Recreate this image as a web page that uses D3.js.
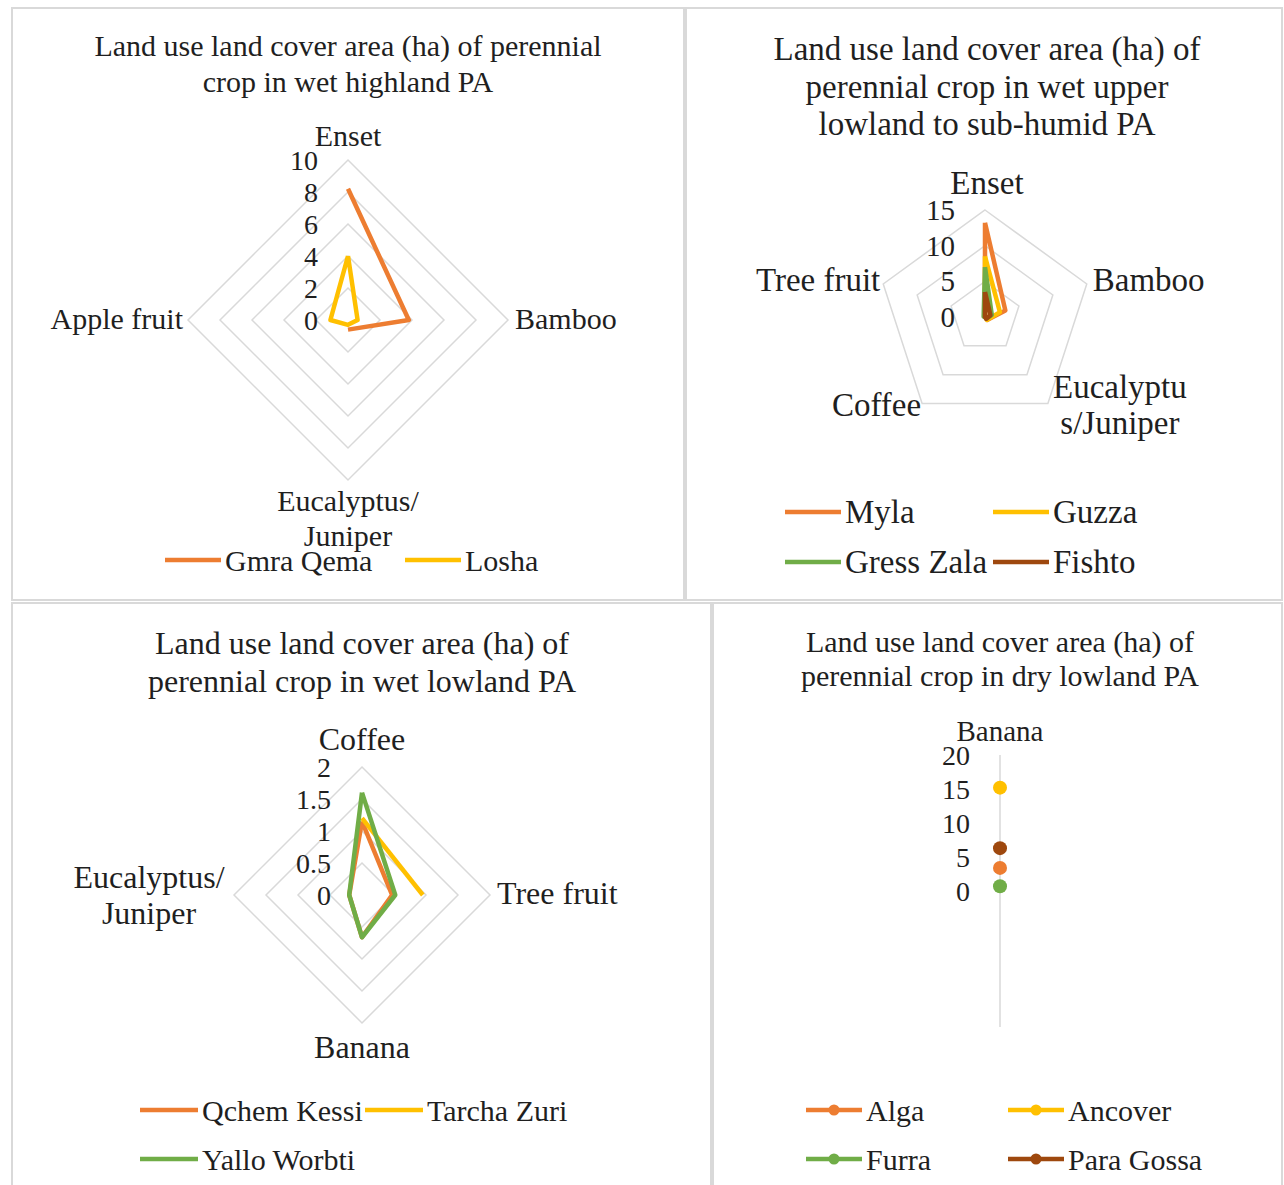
<!DOCTYPE html>
<html>
<head>
<meta charset="utf-8">
<script src="https://cdn.jsdelivr.net/npm/d3@7"></script>
<style>
  body { margin: 0; background: #fff; }
  text { font-family: "Liberation Serif", "Times New Roman", "DejaVu Serif", serif; fill: #1f1f1f; }
  .panel-border { fill: none; stroke: #d9d9d9; stroke-width: 2; }
  .grid { fill: none; stroke: #d9d9d9; stroke-width: 1.5; }
  .series { fill: none; stroke-width: 4.5; stroke-linejoin: round; }
</style>
</head>
<body>
<svg id="chart"></svg>
<script>
// ---- data ----
const colors = ['#ED7D31', '#FFC000', '#70AD47', '#9E480E'];

// wet highland PA
const highlandCategories = ['Enset', 'Bamboo', 'Eucalyptus/Juniper', 'Apple fruit'];
const highlandTicks = [0, 2, 4, 6, 8, 10];
const highlandNames = ['Gmra Qema', 'Losha'];
const gmraQema = [8.2, 3.8, 0.6, null];
const losha = [4.0, 0.6, 0.3, 1.1];

// wet upper lowland to sub-humid PA
const upperCategories = ['Enset', 'Bamboo', 'Eucalyptus/Juniper', 'Coffee', 'Tree fruit'];
const upperTicks = [0, 5, 10, 15];
const upperNames = ['Myla', 'Guzza', 'Gress Zala', 'Fishto'];
const myla = [13.2, 3.0, 0.5, 0, 0];
const guzza = [8.5, 2.2, 0.5, 0, 0];
const gressZala = [7.0, 1.0, 0.3, 0, 0.2];
const fishto = [3.5, 0.8, 0.3, 0, 0];

// wet lowland PA
const lowlandCategories = ['Coffee', 'Tree fruit', 'Banana', 'Eucalyptus/Juniper'];
const lowlandTicks = [0, 0.5, 1, 1.5, 2];
const lowlandNames = ['Qchem Kessi', 'Tarcha Zuri', 'Yallo Worbti'];
const qchemKessi = [1.15, 0.47, 0.66, 0.2];
const tarchaZuri = [1.2, 0.95, null, null];
const yalloWorbti = [1.6, 0.52, 0.66, 0.2];

// dry lowland PA
const dryCategories = ['Banana'];
const dryTicks = [0, 5, 10, 15, 20];
const dryNames = ['Alga', 'Ancover', 'Furra', 'Para Gossa'];
const alga = [3.4];
const ancover = [15.2];
const furra = [0.7];
const paraGossa = [6.3];

// ---- chart ----
const svg = d3.select('#chart').attr('width', 1284).attr('height', 1185);

// panel frames
const panels = [
  { x: 12, y: 8, w: 672, h: 592 },
  { x: 686, y: 8, w: 596, h: 592 },
  { x: 12, y: 603, w: 699, h: 590 },
  { x: 713, y: 603, w: 569, h: 590 }
];
svg.selectAll('.panel-border')
  .data(panels)
  .join('rect')
    .attr('class', 'panel-border')
    .attr('x', d => d.x).attr('y', d => d.y)
    .attr('width', d => d.w).attr('height', d => d.h);

class RadarChart {
  constructor(_config, _data) {
    this.config = _config;
    this.data = _data;
    this.initVis();
  }

  initVis() {
    let vis = this;
    const c = vis.config;
    vis.g = svg.append('g');

    // title
    vis.g.append('text')
      .attr('text-anchor', 'middle')
      .style('font-size', c.titleSize + 'px')
      .selectAll('tspan')
      .data(c.title)
      .join('tspan')
        .attr('x', c.titleX)
        .attr('y', (d, i) => c.titleY + i * c.titleLh)
        .attr('dominant-baseline', 'central')
        .text(d => d);

    const max = d3.max(c.ticks);
    vis.rScale = d3.scaleLinear().domain([0, max]).range([0, c.radius]);
    const n = c.categories.length;
    vis.angle = i => i * 2 * Math.PI / n;

    vis.plot = vis.g.append('g')
      .attr('transform', `translate(${c.cx},${c.cy})`);

    // gridlines
    if (n > 2) {
      const gridLine = d3.lineRadial()
        .angle((d, i) => vis.angle(i))
        .radius(d => vis.rScale(d))
        .curve(d3.curveLinearClosed);
      vis.plot.selectAll('.grid')
        .data(c.ticks.filter(t => t > 0))
        .join('path')
          .attr('class', 'grid')
          .attr('d', t => gridLine(c.categories.map(() => t)));
    } else {
      // single category: only the axis line is drawn
      vis.plot.append('line')
        .attr('class', 'grid')
        .attr('y1', -vis.rScale(max))
        .attr('y2', vis.rScale(max));
    }

    // tick labels
    vis.plot.selectAll('.tick-label')
      .data(c.ticks)
      .join('text')
        .attr('class', 'tick-label')
        .attr('x', c.tickX)
        .attr('y', d => -vis.rScale(d))
        .attr('text-anchor', 'end')
        .attr('dominant-baseline', 'central')
        .style('font-size', c.tickSize + 'px')
        .text(d => d);

    // category labels
    c.categories.forEach((cat, i) => {
      const a = vis.angle(i);
      const r = vis.rScale(max);
      const lab = c.labels[i];
      const x = r * Math.sin(a) + lab.dx;
      const y = -r * Math.cos(a) + lab.dy;
      vis.plot.append('text')
        .attr('text-anchor', lab.anchor)
        .style('font-size', c.labelSize + 'px')
        .selectAll('tspan')
        .data(lab.lines || [cat])
        .join('tspan')
          .attr('x', x)
          .attr('y', (d, k) => y + k * (lab.lh || 0))
          .attr('dominant-baseline', 'central')
          .text(d => d);
    });

    vis.renderVis();
    vis.renderLegend();
  }

  renderVis() {
    let vis = this;
    const c = vis.config;
    if (c.markers) {
      vis.data.forEach((s, si) => {
        vis.plot.selectAll('.pt' + si)
          .data(s.values)
          .join('circle')
            .attr('cx', (d, i) => vis.rScale(d) * Math.sin(vis.angle(i)))
            .attr('cy', (d, i) => -vis.rScale(d) * Math.cos(vis.angle(i)))
            .attr('r', 7)
            .attr('fill', s.color);
      });
      return;
    }
    // blank values break the line, like the original
    const line = d3.lineRadial()
      .defined(d => d.v != null)
      .angle(d => vis.angle(d.i))
      .radius(d => vis.rScale(d.v));
    vis.plot.selectAll('.series')
      .data(vis.data)
      .join('path')
        .attr('class', 'series')
        .attr('stroke', d => d.color)
        .attr('d', d => {
          const pts = d.values.map((v, i) => ({ v, i }));
          pts.push({ v: d.values[0], i: d.values.length });
          return line(pts);
        });
  }

  renderLegend() {
    let vis = this;
    const c = vis.config;
    const items = vis.g.selectAll('.legend-item')
      .data(vis.data)
      .join('g')
        .attr('class', 'legend-item')
        .attr('transform', (d, i) => `translate(${c.legend.cols[i % c.legend.cols.length]},${c.legend.rows[Math.floor(i / c.legend.cols.length)]})`);
    items.append('line')
      .attr('x1', 0).attr('x2', c.legend.lineW)
      .attr('stroke', d => d.color)
      .attr('stroke-width', 4.5);
    if (c.markers) {
      items.append('circle')
        .attr('cx', c.legend.lineW / 2)
        .attr('r', 5.5)
        .attr('fill', d => d.color);
    }
    items.append('text')
      .attr('x', c.legend.lineW + 4)
      .attr('dominant-baseline', 'central')
      .style('font-size', c.legend.size + 'px')
      .text(d => d.name);
  }
}

const makeSeries = (names, arrays) => names.map((name, i) => ({ name, values: arrays[i], color: colors[i] }));

new RadarChart({
  title: ['Land use land cover area (ha) of perennial', 'crop in wet highland PA'],
  titleX: 348, titleY: 45, titleLh: 36, titleSize: 30,
  cx: 348, cy: 320, radius: 160,
  categories: highlandCategories, ticks: highlandTicks,
  tickX: -30, tickSize: 28, labelSize: 30,
  labels: [
    { dx: 0, dy: -25, anchor: 'middle' },
    { dx: 7, dy: -2, anchor: 'start' },
    { dx: 0, dy: 20, anchor: 'middle', lines: ['Eucalyptus/', 'Juniper'], lh: 35 },
    { dx: -5, dy: -2, anchor: 'end' }
  ],
  legend: { cols: [165, 405], rows: [560], lineW: 56, size: 30 }
}, makeSeries(highlandNames, [gmraQema, losha]));

new RadarChart({
  title: ['Land use land cover area (ha) of', 'perennial crop in wet upper', 'lowland to sub-humid PA'],
  titleX: 987, titleY: 49, titleLh: 37.5, titleSize: 33,
  cx: 985, cy: 317, radius: 107,
  categories: upperCategories, ticks: upperTicks,
  tickX: -30, tickSize: 29, labelSize: 33,
  labels: [
    { dx: 2, dy: -27, anchor: 'middle' },
    { dx: 6, dy: -4, anchor: 'start' },
    { dx: 72, dy: -17, anchor: 'middle', lines: ['Eucalyptu', 's/Juniper'], lh: 36 },
    { dx: -1, dy: 1, anchor: 'end' },
    { dx: -3, dy: -4, anchor: 'end' }
  ],
  legend: { cols: [785, 993], rows: [512, 562], lineW: 56, size: 33 }
}, makeSeries(upperNames, [myla, guzza, gressZala, fishto]));

new RadarChart({
  title: ['Land use land cover area (ha) of', 'perennial crop in wet lowland PA'],
  titleX: 362, titleY: 643, titleLh: 38, titleSize: 32,
  cx: 362, cy: 895, radius: 128,
  categories: lowlandCategories, ticks: lowlandTicks,
  tickX: -31, tickSize: 28, labelSize: 32,
  labels: [
    { dx: 0, dy: -28, anchor: 'middle' },
    { dx: 7, dy: -2, anchor: 'start' },
    { dx: 0, dy: 24, anchor: 'middle' },
    { dx: -85, dy: -18, anchor: 'middle', lines: ['Eucalyptus/', 'Juniper'], lh: 36 }
  ],
  legend: { cols: [140, 365], rows: [1110, 1159], lineW: 58, size: 30 }
}, makeSeries(lowlandNames, [qchemKessi, tarchaZuri, yalloWorbti]));

new RadarChart({
  title: ['Land use land cover area (ha) of', 'perennial crop in dry lowland PA'],
  titleX: 1000, titleY: 641, titleLh: 34, titleSize: 30,
  cx: 1000, cy: 891, radius: 136,
  categories: dryCategories, ticks: dryTicks,
  tickX: -30, tickSize: 28, labelSize: 29,
  markers: true,
  labels: [
    { dx: 0, dy: -24, anchor: 'middle' }
  ],
  legend: { cols: [806, 1008], rows: [1110, 1159], lineW: 56, size: 30 }
}, makeSeries(dryNames, [alga, ancover, furra, paraGossa]));
</script>
</body>
</html>
